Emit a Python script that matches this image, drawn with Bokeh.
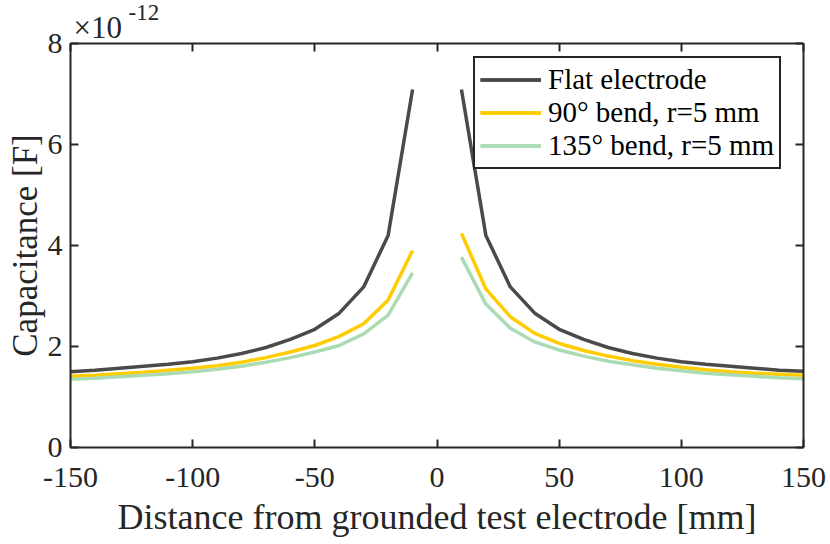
from bokeh.plotting import figure
from bokeh.models import LinearAxis, Range1d, FixedTicker, Label, Legend, LegendItem
from bokeh.embed import file_html
from bokeh.resources import INLINE

# Data (capacitance in units of 1e-12 F)
x_left = [-150, -140, -130, -120, -110, -100, -90, -80, -70, -60, -50, -40, -30, -20, -10]
x_right = [10, 20, 30, 40, 50, 60, 70, 80, 90, 100, 110, 120, 130, 140, 150]

flat_left = [1.50, 1.53, 1.57, 1.61, 1.65, 1.70, 1.77, 1.86, 1.98, 2.14, 2.34, 2.66, 3.18, 4.20, 7.09]
flat_right = [7.09, 4.20, 3.18, 2.66, 2.34, 2.14, 1.98, 1.86, 1.77, 1.70, 1.65, 1.61, 1.57, 1.53, 1.51]

b90_left = [1.41, 1.43, 1.46, 1.49, 1.53, 1.57, 1.62, 1.69, 1.78, 1.89, 2.02, 2.20, 2.45, 2.92, 3.90]
b90_right = [4.24, 3.14, 2.59, 2.26, 2.06, 1.92, 1.81, 1.72, 1.65, 1.59, 1.54, 1.50, 1.47, 1.45, 1.43]

b135_left = [1.35, 1.37, 1.40, 1.43, 1.46, 1.50, 1.55, 1.61, 1.69, 1.78, 1.89, 2.02, 2.25, 2.62, 3.46]
b135_right = [3.77, 2.84, 2.36, 2.09, 1.93, 1.81, 1.71, 1.64, 1.57, 1.52, 1.47, 1.44, 1.41, 1.38, 1.36]

x_ticks = [-150, -100, -50, 0, 50, 100, 150]
x_tick_labels = ["-150", "-100", "-50", "0", "50", "100", "150"]
y_ticks = [0, 2, 4, 6, 8]

series_names = ["Flat electrode", "90\u00b0 bend, r=5 mm", "135\u00b0 bend, r=5 mm"]
colors = ["#4a4a4a", "#ffcc00", "#aadbb5"]

FONT = "Liberation Serif"
AX = "#262626"
SY = 7  # vertical canvas shift (hidden by negative top margin)

p = figure(width=830, height=544 + SY, output_backend="svg", toolbar_location=None,
           x_range=Range1d(-150, 150), y_range=Range1d(0, 8),
           min_border_left=70, min_border_right=27, min_border_top=43 + SY,
           min_border_bottom=97, margin=(-SY, 0, 0, 0))
p.outline_line_color = None
p.grid.visible = False
p.background_fill_color = "white"
p.border_fill_color = "white"

def style_axis(ax, labels=True):
    ax.axis_line_color = AX
    ax.axis_line_width = 2
    ax.major_tick_line_color = AX
    ax.major_tick_line_width = 2
    ax.major_tick_in = 8
    ax.major_tick_out = 0
    ax.minor_tick_line_color = None
    ax.major_label_text_font = FONT
    ax.major_label_text_font_size = "30px"
    ax.major_label_text_color = AX
    ax.axis_label_text_font = FONT
    ax.axis_label_text_font_size = "36px"
    ax.axis_label_text_font_style = "normal"
    ax.axis_label_text_color = AX
    if not labels:
        ax.major_label_text_font_size = "0px"
        ax.major_label_text_color = None
        ax.major_label_standoff = 0

p.xaxis.ticker = FixedTicker(ticks=x_ticks)
p.yaxis.ticker = FixedTicker(ticks=y_ticks)
style_axis(p.xaxis[0])
style_axis(p.yaxis[0])
p.xaxis.major_label_overrides = {t: s for t, s in zip(x_ticks, x_tick_labels)}
p.xaxis.axis_label = "Distance from grounded test electrode [mm]"
p.yaxis.axis_label = "Capacitance [F]"
p.yaxis.axis_label_text_font_size = "35px"
p.xaxis.major_label_standoff = 20
p.yaxis.major_label_standoff = 8
p.xaxis.axis_label_standoff = 7
p.yaxis.axis_label_standoff = 0

top_ax = LinearAxis(ticker=FixedTicker(ticks=x_ticks))
style_axis(top_ax, labels=False)
p.add_layout(top_ax, "above")
right_ax = LinearAxis(ticker=FixedTicker(ticks=y_ticks))
style_axis(right_ax, labels=False)
p.add_layout(right_ax, "right")

items = []
data = [(flat_left, flat_right), (b90_left, b90_right), (b135_left, b135_right)]
for name, color, (yl, yr) in zip(series_names, colors, data):
    r1 = p.line(x_left, yl, line_color=color, line_width=3.5)
    r2 = p.line(x_right, yr, line_color=color, line_width=3.5)
    items.append(LegendItem(label=name, renderers=[r1, r2]))

legend = Legend(items=items, location=(403, 278))
legend.label_text_font = FONT
legend.label_text_font_size = "29px"
legend.label_text_color = "black"
legend.border_line_color = AX
legend.border_line_alpha = 1
legend.border_line_width = 2
legend.padding = 5
legend.margin = 0
legend.spacing = 0
legend.label_height = 33
legend.glyph_height = 33
legend.glyph_width = 61
legend.label_standoff = 7
legend.background_fill_alpha = 1
p.add_layout(legend)

p.add_layout(Label(x=73, y=27 + SY, x_units="canvas", y_units="canvas", text="\u00d710",
                   text_font=FONT, text_font_size="31px", text_color=AX,
                   text_baseline="alphabetic"), "above")
p.add_layout(Label(x=128, y=12 + SY, x_units="canvas", y_units="canvas", text="-12",
                   text_font=FONT, text_font_size="23px", text_color=AX,
                   text_baseline="alphabetic"), "above")

open("out.html", "w").write(file_html(p, INLINE))
